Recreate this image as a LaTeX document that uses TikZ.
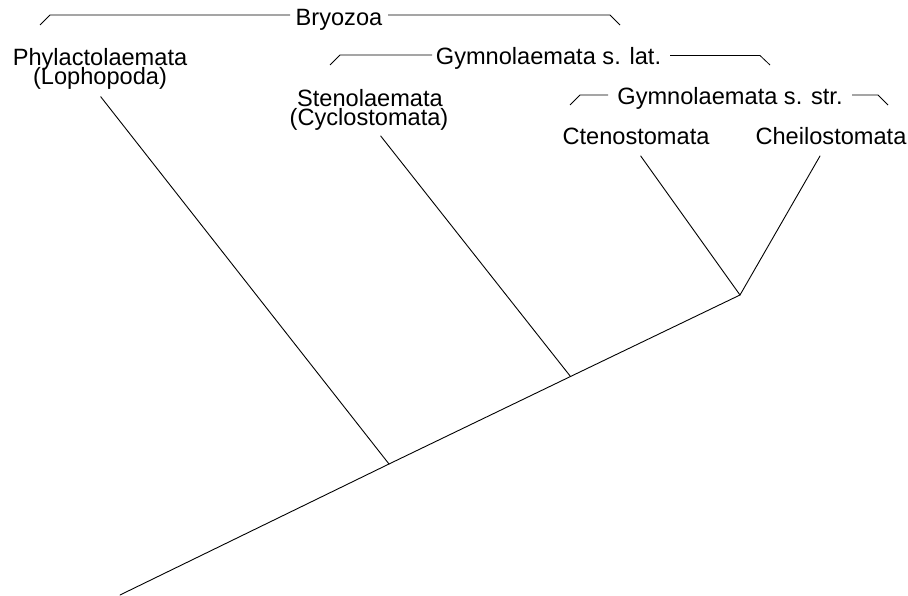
\documentclass[tikz,border=0pt]{standalone}
\usepackage{fontspec}
\setmainfont{Liberation Sans}
\begin{document}
\begin{tikzpicture}[x=1pt,y=-1pt,
  lbl/.style={anchor=base,inner sep=0pt,font=\fontsize{23.6}{19}\selectfont},
  edge/.style={line width=0.9pt,line cap=round,line join=round},
  brk/.style={line width=0.8pt}]
\useasboundingbox (0,0) rectangle (908,596);
% labels
\node[lbl] (phyA) at (100,66) {Phylactolaemata};
\node[lbl] (phyB) at (100,85) {(Lophopoda)};
\node[lbl] (steA) at (370,107) {Stenolaemata};
\node[lbl] (steB) at (369,126) {(Cyclostomata)};
\node[lbl] (cte) at (636,145) {Ctenostomata};
\node[lbl] (che) at (831,145) {Cheilostomata};
\node[lbl] (bry) at (339,26) {Bryozoa};
\node[lbl] (glat) at (548.5,65) {Gymnolaemata s. lat.};
\node[lbl] (gstr) at (730,105) {Gymnolaemata s. str.};
% brackets
\draw[brk] (40,25) -- (50,15) -- (290,15);
\draw[brk] (388,15) -- (610,15) -- (620,25);
\draw[brk] (330,65) -- (340,55) -- (432,55);
\draw[brk] (670,55.5) -- (760,55.5) -- (770,65);
\draw[brk] (570,105) -- (580,95) -- (608,95);
\draw[brk] (852,95) -- (878,95) -- (888,105);
% tree
\coordinate (root) at (120,595);
\coordinate (j1) at (389,464);
\coordinate (j2) at (570.5,376.5);
\coordinate (j3) at (740,295);
\coordinate (tphy) at (100.7,96.7);
\coordinate (tste) at (380.7,136);
\coordinate (tcte) at (640.7,156);
\coordinate (tche) at (820,156);
\draw[edge] (root) -- (j1) -- (j2) -- (j3);
\draw[edge] (tphy) -- (j1);
\draw[edge] (tste) -- (j2);
\draw[edge] (tcte) -- (j3) -- (tche);
\end{tikzpicture}
\end{document}
